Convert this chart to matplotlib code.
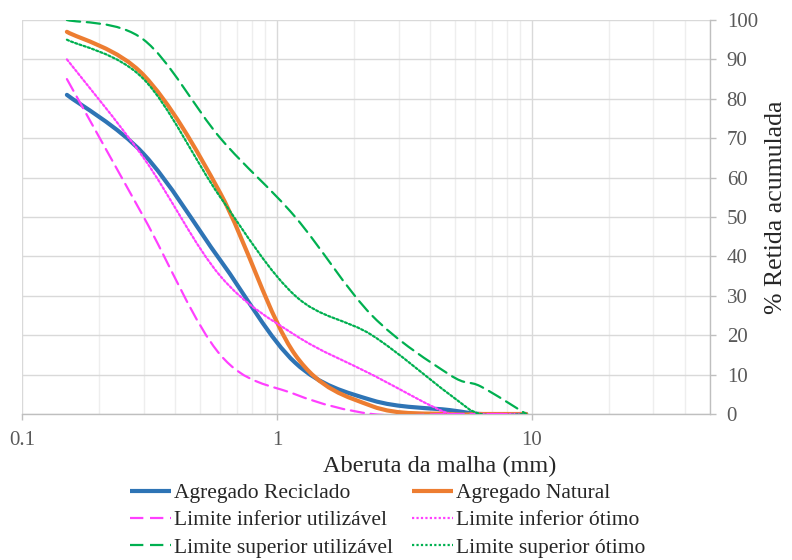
import numpy as np
import matplotlib
matplotlib.use("Agg")
import matplotlib.pyplot as plt
from matplotlib.path import Path
from matplotlib.patches import PathPatch
from matplotlib.lines import Line2D
from matplotlib.ticker import LogLocator, FixedLocator, FuncFormatter

plt.rcParams['font.family'] = ['Liberation Serif', 'DejaVu Serif']

# sieve openings (mm)
sieves = [0.15, 0.3, 0.6, 1.18, 2.36, 4.75, 6.3, 9.5]

# cumulative retained (%)
reciclado = [81, 66, 39, 13, 3.5, 1, 0, 0]
natural = [97, 86, 56, 15, 2, 0, 0, 0]
inf_util = [85, 50, 15, 5, 0, 0, 0, 0]
inf_otimo = [90, 65, 35, 20, 10, 0, 0, 0]
sup_util = [100, 95, 70, 50, 25, 10, 7, 0]
sup_otimo = [95, 85, 55, 30, 20, 5, 0, 0]

labels = ['Agregado Reciclado', 'Agregado Natural',
          'Limite inferior utilizável', 'Limite inferior ótimo',
          'Limite superior utilizável', 'Limite superior ótimo']

series = [reciclado, natural, inf_util, inf_otimo, sup_util, sup_otimo]
colors = ['#2E74B5', '#ED7D31', '#FF40FF', '#FF40FF', '#00B050', '#00B050']
widths = [3.0, 3.0, 1.6, 1.6, 1.6, 1.6]
styles = ['-', '-', (0, (6, 3)), (0, (1, 1)), (0, (6, 3)), (0, (1, 1))]


def smooth_path(xs, ys):
    # excel-like smoothed line: cubic bezier through the points, in log-x space
    lx = np.log10(np.asarray(xs, dtype=float))
    y = np.asarray(ys, dtype=float)
    n = len(lx)
    verts = [(xs[0], ys[0])]
    codes = [Path.MOVETO]
    for i in range(n - 1):
        i0 = max(i - 1, 0)
        i3 = min(i + 2, n - 1)
        c1x = lx[i] + (lx[i + 1] - lx[i0]) / 6
        c1y = y[i] + (y[i + 1] - y[i0]) / 6
        c2x = lx[i + 1] - (lx[i3] - lx[i]) / 6
        c2y = y[i + 1] - (y[i3] - y[i]) / 6
        verts += [(10 ** c1x, c1y), (10 ** c2x, c2y), (xs[i + 1], ys[i + 1])]
        codes += [Path.CURVE4] * 3
    return Path(verts, codes)


fig = plt.figure(figsize=(7.92, 5.6), dpi=100)
ax = fig.add_axes([0.0278, 0.2607, 0.8687, 0.7036])

ax.set_xscale('log')
ax.set_xlim(0.1, 50)
ax.set_ylim(0, 100)

handles = []
for vals, c, lw, ls, lab in zip(series, colors, widths, styles, labels):
    patch = PathPatch(smooth_path(sieves, vals), fill=False, edgecolor=c,
                      linewidth=lw, linestyle=ls, capstyle='round',
                      joinstyle='round', zorder=3)
    ax.add_patch(patch)
    handles.append(Line2D([], [], color=c, linewidth=lw, linestyle=ls,
                          solid_capstyle='butt', label=lab))

# grid
ax.xaxis.set_major_locator(LogLocator(base=10, numticks=10))
ax.xaxis.set_minor_locator(LogLocator(base=10, subs=np.arange(2, 10), numticks=20))
ax.xaxis.set_major_formatter(FuncFormatter(lambda v, p: f'{v:g}'))
ax.yaxis.set_major_locator(FixedLocator(np.arange(0, 101, 10)))
ax.grid(True, which='major', axis='both', color='#D9D9D9', linewidth=1.0, zorder=0)
ax.grid(True, which='minor', axis='x', color='#EEEEEE', linewidth=1.0, zorder=0)
ax.set_axisbelow(True)

ax.yaxis.tick_right()
for sp in ['left', 'top']:
    ax.spines[sp].set_visible(False)
for sp in ['right', 'bottom']:
    ax.spines[sp].set_color('#BFBFBF')
    ax.spines[sp].set_linewidth(1.0)

ax.tick_params(axis='x', which='major', direction='out', length=4, width=1,
               color='#BFBFBF', labelsize=15, labelcolor='#595959', pad=8)
ax.tick_params(axis='x', which='minor', length=0)
ax.tick_params(axis='y', which='major', direction='out', length=4, width=1,
               color='#BFBFBF', labelsize=15, labelcolor='#595959', pad=8)

# axis titles
fig.text(440 / 792, 1 - 466 / 560, 'Aberuta da malha (mm)', fontsize=17.5,
         color='#262626', ha='center', va='center')
fig.text(776 / 792, 1 - 207 / 560, '% Retida acumulada', fontsize=18.5,
         color='#262626', ha='center', va='center', rotation=90)

# legend filled row by row
order = [0, 2, 4, 1, 3, 5]
fig.legend(handles=[handles[i] for i in order], ncol=2, loc='upper left',
           bbox_to_anchor=(130 / 792, 1 - 483 / 560), frameon=False,
           fontsize=15.5, handlelength=1.9, handletextpad=0.14,
           columnspacing=0.88, labelspacing=0.34, borderpad=0,
           borderaxespad=0, labelcolor='#262626')

fig.savefig('out.png', dpi=100)
plt.close(fig)
